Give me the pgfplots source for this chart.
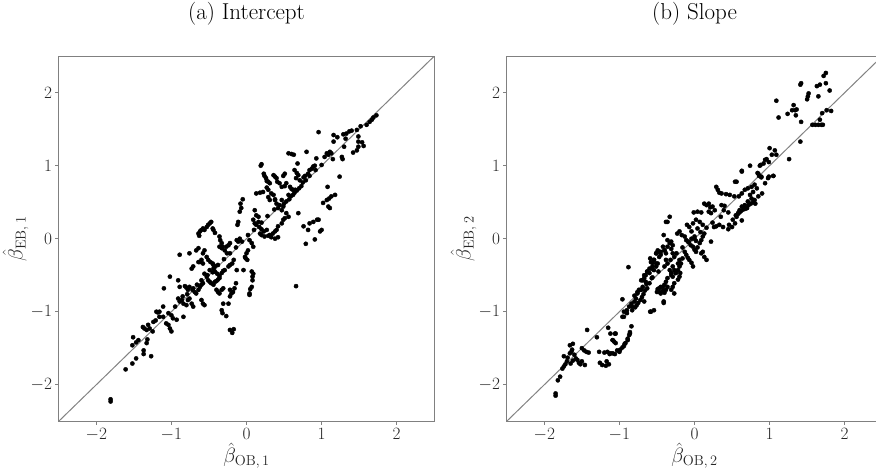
\documentclass[border=0pt]{standalone}
\usepackage{pgfplots}
\pgfplotsset{compat=1.18}
\definecolor{framegray}{RGB}{128,128,128}
\definecolor{diaggray}{RGB}{130,130,130}
\pgfplotsset{
  betastyle/.style={
    scale only axis, width=375.4pt, height=365pt,
    xmin=-2.5,xmax=2.5,ymin=-2.5,ymax=2.5,
    xtick={-2,-1,0,1,2}, ytick={-2,-1,0,1,2},
    axis line style={framegray, line width=1pt},
    tick style={framegray, line width=1pt},
    major tick length=3.5pt,
    tick align=outside,
    xtick pos=left, ytick pos=left,
    ticklabel style={font=\fontsize{16}{19}\selectfont, text=black!85},
    xticklabel style={inner sep=3pt},
    yticklabel style={inner sep=3pt},
    label style={font=\fontsize{20}{24}\selectfont, text=black!85, inner sep=0pt},
    title style={font=\fontsize{23}{27}\selectfont, at={(axis description cs:0.5,1.1)}, anchor=center},
    xlabel style={at={(axis description cs:0.5,-0.094)}, anchor=center},
    ylabel style={at={(axis description cs:-0.115,0.5)}, anchor=center},
  },
  dots/.style={only marks, mark=*, mark size=2.1pt, mark options={draw=none, fill=black}},
}
\begin{document}
\begin{tikzpicture}
\path[use as bounding box] (0,0) rectangle (876pt,470pt);
\begin{axis}[betastyle, at={(58.8pt,48.8pt)}, anchor=south west,
  title={(a) Intercept},
  xlabel={$\hat{\beta}_{\mathrm{OB},\,1}$},
  ylabel={$\hat{\beta}_{\mathrm{EB},\,1}$}]
\addplot[diaggray, line width=1pt] coordinates {(-2.5,-2.5) (2.5,2.5)};
\addplot[dots] table {
x y
-1.81 -2.20
-1.81 -2.23
-1.61 -1.79
-1.52 -1.71
-1.47 -1.64
-1.37 -1.53
-1.37 -1.58
-1.27 -1.61
-1.51 -1.35
-1.52 -1.46
-1.47 -1.42
-1.44 -1.39
-1.33 -1.43
-1.32 -1.38
-1.38 -1.21
-1.36 -1.23
-1.33 -1.25
-1.31 -1.18
-1.25 -1.27
-1.29 -1.23
-1.24 -1.14
-1.21 -1.12
-1.11 -1.07
-1.16 -1.07
-1.20 -1.00
-1.18 -1.01
-1.16 -1.00
-1.11 -0.93
-1.04 -1.02
-1.00 -1.05
-0.98 -1.09
-0.93 -1.11
-1.07 -1.16
-1.04 -1.18
-1.02 -1.23
-1.00 -1.27
-0.84 -1.07
-1.02 -0.52
-1.10 -0.68
-0.91 -0.57
-0.89 -0.66
-0.89 -0.22
-0.76 -0.20
-0.67 -0.16
-0.64 -0.13
-0.64 -0.32
-0.71 -0.38
-0.73 -0.41
-0.62 -0.32
-0.60 -0.29
-0.58 -0.34
-0.82 -0.65
-0.80 -0.67
-0.78 -0.70
-0.76 -0.66
-0.71 -0.68
-0.69 -0.73
-0.67 -0.75
-0.64 -0.70
-0.62 -0.66
-0.60 -0.63
-0.58 -0.61
-0.85 -0.79
-0.91 -0.82
-0.89 -0.86
-0.84 -0.89
-0.80 -0.91
-0.78 -0.84
-0.76 -0.82
-0.73 -0.89
-0.71 -0.93
-0.60 -0.84
-0.58 -0.89
-0.56 -0.91
-0.56 -0.48
-0.53 -0.52
-0.51 -0.57
-0.49 -0.59
-0.47 -0.61
-0.44 -0.63
-0.42 -0.59
-0.40 -0.58
-0.38 -0.56
-0.36 -0.54
-0.49 -0.43
-0.44 -0.41
-0.42 -0.45
-0.39 -0.48
-0.36 -0.51
-0.33 -0.47
-0.31 -0.44
-0.29 -0.43
-0.40 -0.70
-0.38 -0.73
-0.36 -0.75
-0.33 -0.70
-0.31 -0.68
-0.22 -0.70
-0.20 -0.75
-0.18 -0.73
-0.16 -0.68
-0.14 -0.61
-0.24 -0.89
-0.22 -0.79
-0.31 -0.89
-0.33 -0.98
-0.32 -1.02
-0.27 -1.06
-0.22 -1.25
-0.19 -1.29
-0.17 -1.24
-0.24 -0.38
-0.22 -0.36
-0.19 -0.34
-0.17 -0.29
-0.13 -0.43
-0.04 -0.43
0.07 -0.45
0.09 -0.48
0.08 -0.52
0.08 -0.57
0.07 -0.66
0.05 -0.69
0.04 -0.75
0.04 -0.77
0.66 -0.65
-0.56 -0.16
-0.58 -0.20
-0.53 -0.25
-0.51 -0.29
-0.48 -0.32
-0.45 -0.34
-0.44 -0.36
-0.42 -0.38
-0.47 0.23
-0.49 0.21
-0.51 0.19
-0.53 0.16
-0.56 0.12
-0.58 0.14
-0.60 0.12
-0.62 0.10
-0.64 0.07
-0.63 0.04
-0.45 0.14
-0.44 0.12
-0.42 0.08
-0.36 0.03
-0.35 -0.02
-0.33 -0.06
-0.32 -0.11
-0.36 -0.11
-0.33 -0.13
-0.22 -0.06
-0.24 -0.09
-0.27 -0.11
-0.29 -0.16
-0.26 -0.20
-0.09 0.00
-0.11 -0.04
-0.13 -0.02
0.04 -0.02
0.07 -0.06
0.09 -0.11
0.02 -0.16
0.00 -0.20
-0.02 -0.25
-0.01 -0.27
0.01 -0.29
-0.09 0.37
-0.07 0.42
-0.08 0.48
-0.05 0.54
-0.11 0.23
-0.12 0.19
0.11 0.39
0.13 0.32
0.16 0.30
0.18 0.07
0.20 0.05
0.24 0.03
0.29 0.04
0.33 0.02
0.38 0.00
0.42 0.02
0.53 0.35
0.56 0.30
0.51 0.28
0.49 0.26
0.47 0.21
0.42 0.17
0.40 0.12
0.38 0.10
0.35 0.07
0.31 0.05
0.27 0.12
0.23 0.10
0.20 0.13
0.17 0.16
0.13 0.19
0.11 0.21
0.09 0.26
0.16 0.23
0.69 0.35
0.38 0.53
0.40 0.48
0.44 0.46
0.42 0.42
0.47 0.39
0.49 0.44
0.50 0.48
0.53 0.51
0.57 0.54
0.59 0.58
0.62 0.60
0.64 0.63
0.67 0.66
0.70 0.69
0.73 0.72
0.27 0.70
0.29 0.67
0.33 0.62
0.36 0.60
0.38 0.54
0.13 0.62
0.18 0.63
0.22 0.64
0.29 0.57
0.31 0.53
0.47 0.71
0.51 0.72
0.53 0.76
0.58 0.71
0.60 0.68
0.62 0.67
0.20 1.02
0.19 1.00
0.23 0.89
0.24 0.86
0.26 0.83
0.27 0.79
0.29 0.78
0.31 0.76
0.36 0.87
0.38 0.85
0.40 0.83
0.41 0.78
0.44 0.76
0.51 0.89
0.49 0.86
0.64 0.94
0.67 0.90
0.69 0.87
0.66 0.83
0.71 0.80
0.76 0.84
0.78 0.86
0.79 0.80
0.82 0.89
0.84 0.94
0.87 0.96
0.89 0.99
0.91 1.00
0.68 1.03
0.56 1.17
0.60 1.16
0.63 1.15
0.80 1.19
0.93 1.10
0.96 1.46
1.04 1.12
1.07 1.17
1.13 1.17
1.09 1.15
1.11 1.19
1.02 0.49
1.07 0.53
1.10 0.55
1.13 0.58
1.18 0.60
1.09 0.44
1.11 0.42
1.08 0.71
1.24 0.85
0.76 0.17
0.82 0.12
0.89 0.23
0.94 0.26
1.00 0.12
0.98 0.10
0.91 -0.01
0.79 -0.07
0.96 0.26
0.84 0.21
1.73 1.69
1.69 1.66
1.67 1.63
1.64 1.60
1.60 1.56
1.52 1.54
1.47 1.49
1.40 1.48
1.37 1.47
1.33 1.44
1.29 1.43
1.21 1.39
1.16 1.42
1.16 1.33
1.32 1.37
1.30 1.26
1.49 1.40
1.49 1.33
1.54 1.32
1.56 1.27
1.49 1.26
1.42 1.18
1.47 1.21
1.28 1.09
1.15 1.09
1.27 1.12
-0.95 -0.93
-0.86 -0.84
-0.79 -0.76
-0.72 -0.70
-0.66 -0.63
-0.60 -0.57
-0.52 -0.50
-0.45 -0.46
-0.38 -0.36
-0.30 -0.28
-0.22 -0.20
-0.14 -0.12
-0.06 -0.04
0.02 0.05
0.10 0.12
0.20 0.22
0.28 0.31
0.37 0.40
0.47 0.53
0.56 0.60
0.65 0.67
0.75 0.77
0.84 0.86
0.92 0.94
1.00 1.01
};
\end{axis}
\begin{axis}[betastyle, at={(506.8pt,48.8pt)}, anchor=south west,
  title={(b) Slope},
  xlabel={$\hat{\beta}_{\mathrm{OB},\,2}$},
  ylabel={$\hat{\beta}_{\mathrm{EB},\,2}$}]
\addplot[diaggray, line width=1pt] coordinates {(-2.5,-2.5) (2.5,2.5)};
\addplot[dots] table {
x y
-1.85 -2.12
-1.85 -2.15
-1.82 -1.94
-1.79 -1.89
-1.76 -1.78
-1.74 -1.75
-1.72 -1.72
-1.70 -1.68
-1.74 -1.61
-1.69 -1.63
-1.66 -1.57
-1.64 -1.55
-1.66 -1.46
-1.62 -1.44
-1.63 -1.52
-1.60 -1.59
-1.58 -1.64
-1.56 -1.66
-1.54 -1.70
-1.52 -1.72
-1.50 -1.68
-1.46 -1.73
-1.62 -1.67
-1.65 -1.71
-1.50 -1.50
-1.47 -1.53
-1.44 -1.55
-1.41 -1.56
-1.43 -1.25
-1.30 -1.35
-1.27 -1.55
-1.26 -1.70
-1.23 -1.73
-1.18 -1.74
-1.14 -1.72
-1.17 -1.68
-1.20 -1.56
-1.15 -1.22
-1.12 -1.30
-1.16 -1.55
-1.13 -1.58
-1.09 -1.57
-1.06 -1.58
-1.03 -1.53
-0.99 -1.52
-0.96 -1.49
-0.94 -1.47
-0.92 -1.43
-1.09 -1.39
-1.07 -1.41
-1.05 -1.30
-0.89 -1.37
-0.87 -1.32
-0.86 -1.28
-0.84 -1.20
-0.94 -1.07
-0.90 -1.02
-0.96 -0.83
-0.88 -0.39
-0.83 -0.98
-0.79 -0.94
-0.77 -0.91
-0.75 -0.88
-0.72 -0.84
-0.70 -0.80
-0.68 -0.76
-0.76 -0.73
-0.74 -0.70
-0.69 -0.66
-0.66 -0.71
-0.63 -0.68
-0.87 -0.93
-0.84 -0.89
-0.71 -0.57
-0.58 -1.00
-0.54 -0.98
-0.67 -0.50
-0.63 -0.45
-0.60 -0.47
-0.57 -0.41
-0.54 -0.43
-0.51 -0.38
-0.56 -0.33
-0.54 -0.29
-0.59 -0.27
-0.49 -0.34
-0.45 -0.66
-0.42 -0.71
-0.40 -0.74
-0.49 -0.69
-0.47 -0.73
-0.38 -0.70
-0.36 -0.66
-0.41 -0.86
-0.65 -0.59
-0.60 -0.61
-0.57 -0.54
-0.41 0.05
-0.36 -0.02
-0.33 -0.06
-0.42 -0.11
-0.47 -0.18
-0.51 -0.20
-0.45 -0.22
-0.40 -0.16
-0.31 -0.14
-0.38 -0.29
-0.36 -0.34
-0.29 -0.38
-0.27 -0.43
-0.25 -0.47
-0.31 -0.50
-0.22 -0.34
-0.20 -0.29
-0.27 -0.25
-0.29 -0.20
-0.38 0.23
-0.33 0.30
-0.36 0.23
-0.22 -0.56
-0.20 -0.52
-0.19 -0.47
-0.27 -0.61
-0.29 -0.66
-0.31 -0.70
-0.27 -0.75
-0.50 -0.73
-0.45 -0.75
-0.76 -0.75
-0.78 -0.82
-0.80 -0.86
-0.83 -0.93
-0.90 -0.98
-0.94 -1.00
-0.96 -1.07
-0.71 -0.70
-0.67 -0.86
-0.59 -1.00
-1.06 -1.30
-1.09 -1.39
-1.05 -1.43
-1.12 -1.57
-1.00 -1.55
-0.93 -1.44
-0.89 -1.39
-0.86 -1.30
0.63 0.92
0.85 0.89
0.89 0.85
0.94 0.76
0.98 0.83
1.05 0.86
0.54 0.78
0.29 0.71
0.31 0.67
0.33 0.63
0.36 0.62
0.42 0.61
0.47 0.60
0.53 0.58
0.59 0.58
0.63 0.62
0.67 0.67
0.71 0.69
0.76 0.71
0.80 0.74
0.83 0.69
0.78 0.64
0.74 0.60
0.76 0.55
0.80 0.53
0.85 0.58
0.90 0.62
0.81 0.48
0.71 0.51
0.67 0.46
0.63 0.44
0.60 0.39
0.58 0.35
0.56 0.30
0.54 0.21
0.50 0.16
0.45 0.13
0.38 0.16
0.33 0.19
0.29 0.17
0.26 0.16
0.46 0.19
0.51 0.26
0.63 0.25
0.55 0.32
0.60 0.36
0.65 0.40
0.70 0.42
0.72 0.46
0.75 0.48
0.78 0.50
0.62 0.38
0.68 0.41
0.58 0.34
0.66 0.44
0.13 0.48
0.16 0.46
0.19 0.48
0.21 0.43
0.24 0.44
0.27 0.39
0.22 0.35
0.19 0.37
0.09 0.36
0.04 0.37
-0.01 0.36
0.36 0.46
0.40 0.45
0.39 0.39
-0.10 0.19
-0.07 0.16
-0.02 0.21
0.02 0.26
0.07 0.23
0.11 0.19
0.04 0.14
-0.04 0.10
-0.20 0.10
-0.23 0.07
-0.17 0.05
-0.13 0.03
-0.11 -0.02
-0.08 -0.04
-0.05 -0.09
-0.02 -0.11
0.00 -0.15
0.02 -0.18
0.04 -0.12
0.07 -0.06
0.09 -0.02
0.11 0.03
0.13 0.07
-0.04 0.00
0.00 0.03
0.02 -0.03
-0.13 -0.18
-0.11 -0.22
-0.09 -0.26
-0.07 -0.29
-0.04 -0.33
-0.02 -0.38
-0.16 -0.27
-0.18 -0.34
-0.20 -0.38
-0.22 -0.43
-0.25 -0.47
0.09 -0.20
0.13 -0.25
0.16 -0.29
0.11 -0.18
0.22 -0.04
-0.31 -0.04
-0.29 -0.09
-0.36 -0.11
-0.40 -0.16
-0.38 -0.20
-0.45 -0.18
-0.49 -0.16
-0.51 -0.20
-0.47 -0.25
-0.54 -0.29
-0.51 -0.34
-0.58 -0.32
-0.56 -0.38
-0.60 -0.41
-0.63 -0.45
-0.65 -0.50
-0.67 -0.54
-0.69 -0.57
-0.33 -0.43
-0.31 -0.47
-0.29 -0.52
-0.36 -0.54
-0.38 -0.59
-0.40 -0.63
-0.42 -0.66
-0.47 -0.68
-0.41 -0.88
1.75 2.27
1.72 2.23
1.67 2.11
1.63 2.09
1.75 2.13
1.80 2.03
1.65 1.95
1.52 1.99
1.51 1.95
1.50 1.91
1.42 2.13
1.41 2.11
1.09 1.89
1.12 1.66
1.32 1.83
1.30 1.76
1.34 1.76
1.36 1.77
1.35 1.69
1.24 1.71
1.42 1.60
1.70 1.72
1.76 1.76
1.82 1.75
1.67 1.63
1.57 1.56
1.61 1.56
1.65 1.56
1.69 1.56
1.71 1.56
1.41 1.33
1.26 1.09
1.00 1.24
1.07 1.21
1.09 1.15
1.03 1.15
0.96 1.09
0.94 1.08
0.92 1.03
0.88 1.01
0.87 1.00
0.99 1.05
0.74 1.00
0.63 0.93
0.84 0.90
0.86 0.86
0.89 0.84
0.99 0.85
1.05 0.86
0.56 0.78
-0.80 -0.78
-0.72 -0.70
-0.64 -0.62
-0.56 -0.53
-0.48 -0.45
-0.40 -0.38
-0.32 -0.29
-0.24 -0.20
-0.16 -0.12
-0.08 -0.05
0.00 0.00
0.08 0.09
0.16 0.15
0.24 0.22
0.35 0.30
0.45 0.36
};
\end{axis}
\end{tikzpicture}
\end{document}
